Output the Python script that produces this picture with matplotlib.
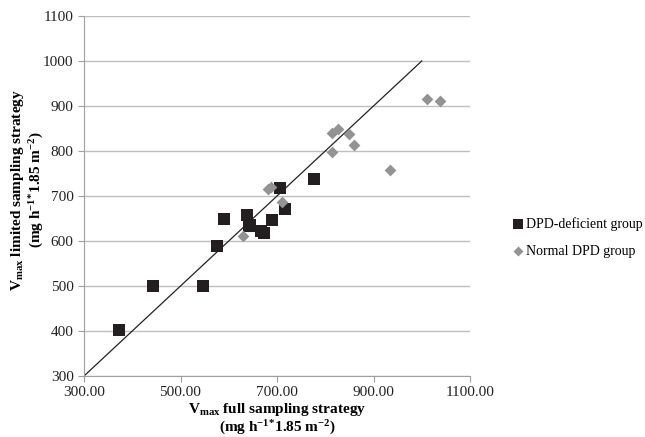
import matplotlib
matplotlib.use("Agg")
import matplotlib.pyplot as plt
import numpy as np

plt.rcParams['font.family'] = ['Liberation Serif', 'DejaVu Serif']
plt.rcParams['mathtext.default'] = 'regular'

# DPD-deficient group (full, limited)
dpd_def_x = [372, 442, 547, 575, 590, 638, 645, 642, 667, 674, 690, 706, 716, 776]
dpd_def_y = [403, 500, 500, 590, 650, 658, 636, 633, 622, 617, 646, 718, 672, 738]

# Normal DPD group
normal_x = [630, 682, 688, 710, 815, 815, 826, 850, 859, 934, 1011, 1038]
normal_y = [611, 715, 720, 687, 798, 839, 848, 838, 813, 757, 916, 912]

# identity line
line_x = [300, 1000]
line_y = [300, 1000]

x_ticks = [300, 500, 700, 900, 1100]
y_ticks = [300, 400, 500, 600, 700, 800, 900, 1000, 1100]

W, H = 645, 437
fig = plt.figure(figsize=(6.45, 4.37), dpi=100)
ax = fig.add_axes([84 / W, 1 - 376 / H, 386 / W, 360 / H])

ax.plot(line_x, line_y, color='#222222', lw=0.9, zorder=2)
ax.scatter(dpd_def_x, dpd_def_y, marker='s', s=72, color='#231f20',
           label='DPD-deficient group', zorder=3, linewidths=0)
ax.scatter(normal_x, normal_y, marker='D', s=36, color='#939393',
           label='Normal DPD group', zorder=3, linewidths=0)

ax.set_xlim(300, 1100)
ax.set_ylim(300, 1100)
ax.set_xticks(x_ticks)
ax.set_xticklabels(['%.2f' % v for v in x_ticks])
ax.set_yticks(y_ticks)
ax.yaxis.grid(True, color='#bfbfbf', lw=1)
ax.set_axisbelow(True)
for s in ['top', 'right']:
    ax.spines[s].set_visible(False)
for s in ['left', 'bottom']:
    ax.spines[s].set_color('#a0a0a0')
ax.tick_params(length=4, color='#a0a0a0', labelsize=11, labelcolor='#222222')

unit = '(mg h$^{-1}$$^{*}$1.85 m$^{-2}$)'
fig.text(277 / W, 1 - 410 / H, 'V$_{max}$ full sampling strategy',
         ha='center', va='center', fontsize=11, fontweight='bold')
fig.text(277 / W, 1 - 428 / H, unit,
         ha='center', va='center', fontsize=11, fontweight='bold')
fig.text(18 / W, 1 - 190 / H, 'V$_{max}$ limited sampling strategy',
         ha='center', va='center', rotation=90, fontsize=11, fontweight='bold')
fig.text(37 / W, 1 - 190 / H, unit,
         ha='center', va='center', rotation=90, fontsize=11, fontweight='bold')

leg = ax.legend(loc='upper left', bbox_to_anchor=(511 / W, 1 - 217 / H),
                bbox_transform=fig.transFigure, frameon=False, borderpad=0,
                borderaxespad=0, fontsize=10, handletextpad=0.1,
                handlelength=1.0, labelspacing=1.0, markerscale=0.85)

fig.savefig('out.png', dpi=100)
